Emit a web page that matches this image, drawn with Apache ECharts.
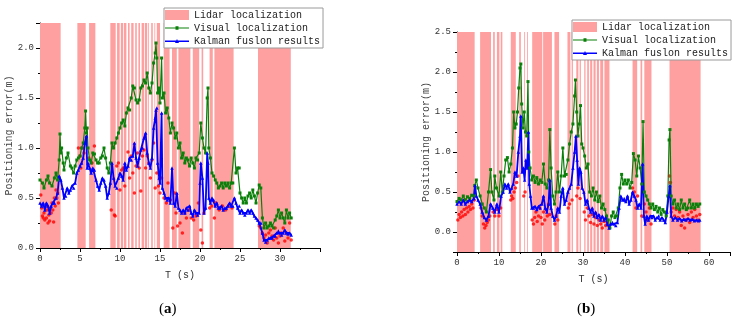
<!DOCTYPE html>
<html>
<head>
<meta charset="utf-8">
<script src="https://cdn.jsdelivr.net/npm/echarts@6/dist/echarts.min.js"></script>
<style>
  html, body { margin: 0; padding: 0; background: #fff; }
  #chart { width: 736px; height: 323px; }
</style>
</head>
<body>
<div id="chart"></div>
<script>
// lidar localization intervals [start, end] in seconds
const bandsA = [[0,2.58],[4.67,5.71],[6.13,6.92],[8.79,9.46],[9.63,9.96],[10.1,10.4],[10.5,10.8],[11.0,11.2],[11.4,11.7],[11.9,12.1],[12.3,12.5],[12.7,13.0],[13.1,13.4],[13.5,13.6],[13.9,14.1],[14.3,14.4],[14.6,15.0],[15.46,16.2],[16.5,17.1],[17.3,18.8],[19.1,19.9],[20.2,20.4],[21.2,21.6],[21.8,24.2],[27.25,31.35]];
const bandsB = [[0,4.2],[5.5,8.1],[8.6,9.0],[9.5,10.1],[10.4,10.8],[12.8,14.0],[14.8,15.2],[16.0,16.2],[16.7,16.9],[17.9,20.3],[20.5,22.6],[23.2,24.3],[26.3,27.0],[27.3,27.6],[28.4,28.9],[29.2,29.5],[30.3,30.6],[31.0,31.4],[31.7,32.2],[32.5,33.0],[33.3,33.8],[34.1,34.8],[35.1,36.3],[41.8,42.9],[43.7,44.1],[44.6,46.3],[50.6,58.0]];

// (a) visual localization error
const visualA = [[0,0.68],[0.3,0.65],[0.5,0.6],[0.8,0.68],[1.0,0.72],[1.2,0.65],[1.5,0.62],[1.8,0.7],[2.0,0.75],[2.2,0.68],[2.4,0.88],[2.5,1.14],[2.6,0.95],[2.7,1.0],[2.9,0.85],[3.0,0.78],[3.3,0.9],[3.5,0.95],[3.8,0.82],[4.0,0.8],[4.2,0.75],[4.4,0.82],[4.6,0.88],[4.8,0.9],[5.0,0.92],[5.2,1.0],[5.4,1.05],[5.6,1.2],[5.7,1.37],[5.8,1.15],[5.9,1.2],[6.0,1.0],[6.2,0.88],[6.4,0.85],[6.6,0.95],[6.8,0.94],[7.0,0.88],[7.2,0.85],[7.4,0.85],[7.6,0.9],[7.8,0.92],[8.0,1.0],[8.2,0.9],[8.4,0.8],[8.6,0.75],[8.8,0.85],[9.0,1.05],[9.2,1.0],[9.4,1.05],[9.6,1.1],[9.8,1.15],[10.0,1.2],[10.2,1.25],[10.4,1.28],[10.6,1.22],[10.8,1.35],[11.0,1.4],[11.2,1.38],[11.4,1.5],[11.6,1.62],[11.8,1.6],[12.0,1.48],[12.2,1.45],[12.4,1.48],[12.6,1.6],[12.8,1.62],[13.0,1.68],[13.2,1.65],[13.4,1.75],[13.6,1.6],[13.8,1.55],[14.0,1.65],[14.2,1.85],[14.4,1.95],[14.5,2.05],[14.6,1.9],[14.7,1.55],[14.9,1.6],[15.0,1.45],[15.2,1.9],[15.3,1.5],[15.5,1.55],[15.7,1.35],[15.9,1.4],[16.1,1.3],[16.3,1.15],[16.5,1.25],[16.7,1.2],[16.9,1.1],[17.1,1.15],[17.3,1.0],[17.5,1.05],[17.7,0.9],[17.9,0.95],[18.1,0.85],[18.3,0.9],[18.5,0.88],[18.7,0.82],[18.9,0.9],[19.1,0.85],[19.3,0.8],[19.5,0.9],[19.7,0.88],[19.9,0.95],[20.1,1.25],[20.3,1.1],[20.5,1.0],[20.7,0.95],[20.9,1.5],[21.0,1.6],[21.1,1.0],[21.3,0.9],[21.5,0.75],[21.7,0.72],[21.9,0.68],[22.1,0.65],[22.3,0.6],[22.5,0.62],[22.7,0.65],[22.9,0.6],[23.1,0.65],[23.3,0.62],[23.5,0.65],[23.7,0.6],[23.9,0.65],[24.1,0.65],[24.3,1.0],[24.5,0.75],[24.7,0.8],[24.9,0.8],[25.0,0.55],[25.2,0.5],[25.4,0.45],[25.6,0.5],[25.8,0.45],[26.0,0.52],[26.2,0.55],[26.4,0.5],[26.6,0.58],[26.8,0.52],[27.0,0.45],[27.2,0.55],[27.4,0.63],[27.6,0.6],[27.8,0.3],[28.0,0.2],[28.2,0.25],[28.4,0.2],[28.6,0.22],[28.8,0.25],[29.0,0.22],[29.2,0.2],[29.4,0.28],[29.6,0.32],[29.8,0.38],[30.0,0.3],[30.2,0.35],[30.4,0.3],[30.6,0.25],[30.8,0.38],[31.0,0.3],[31.2,0.35],[31.4,0.3]];

// (a) kalman fusion error
const kalmanA = [[0,0.45],[0.2,0.42],[0.4,0.45],[0.6,0.38],[0.8,0.45],[1.0,0.42],[1.2,0.35],[1.4,0.42],[1.6,0.45],[1.8,0.45],[2.0,0.5],[2.2,0.55],[2.4,0.72],[2.6,0.68],[2.8,0.6],[3.0,0.5],[3.2,0.52],[3.4,0.6],[3.6,0.55],[3.8,0.58],[4.0,0.62],[4.2,0.6],[4.4,0.65],[4.6,0.75],[4.8,0.78],[5.0,0.82],[5.2,0.85],[5.4,0.9],[5.6,1.05],[5.8,1.12],[5.9,0.8],[6.0,0.85],[6.2,0.8],[6.4,0.75],[6.6,0.8],[6.8,0.78],[7.0,0.68],[7.2,0.62],[7.4,0.58],[7.6,0.65],[7.8,0.7],[8.0,0.68],[8.2,0.62],[8.4,0.5],[8.6,0.55],[8.8,0.65],[9.0,0.85],[9.2,0.7],[9.4,0.62],[9.6,0.6],[9.8,0.7],[10.0,0.75],[10.2,0.72],[10.4,0.68],[10.6,0.85],[10.8,0.78],[11.0,0.82],[11.2,0.9],[11.4,0.88],[11.6,0.92],[11.8,1.05],[12.0,0.9],[12.2,0.82],[12.4,0.9],[12.6,0.98],[12.8,1.0],[13.0,1.1],[13.2,1.15],[13.4,0.95],[13.6,0.85],[13.8,0.8],[14.0,0.9],[14.2,1.2],[14.4,1.3],[14.5,1.38],[14.6,1.4],[14.7,0.85],[14.9,0.7],[15.0,0.65],[15.2,1.35],[15.3,0.6],[15.5,0.55],[15.7,0.5],[15.9,0.48],[16.1,0.5],[16.3,0.45],[16.5,0.8],[16.7,0.45],[16.9,0.42],[17.1,0.55],[17.3,0.4],[17.5,0.38],[17.7,0.35],[17.9,0.38],[18.1,0.35],[18.3,0.4],[18.5,0.38],[18.7,0.42],[18.9,0.35],[19.1,0.32],[19.3,0.38],[19.5,0.35],[19.7,0.33],[19.9,0.35],[20.0,0.65],[20.1,0.85],[20.3,0.7],[20.5,0.35],[20.7,0.4],[20.9,0.95],[21.0,0.85],[21.1,0.5],[21.3,0.45],[21.5,0.5],[21.7,0.48],[21.9,0.42],[22.1,0.45],[22.3,0.4],[22.5,0.4],[22.7,0.42],[22.9,0.38],[23.1,0.4],[23.3,0.4],[23.5,0.42],[23.7,0.45],[23.9,0.42],[24.1,0.42],[24.3,0.5],[24.5,0.45],[24.7,0.4],[24.9,0.42],[25.0,0.35],[25.2,0.38],[25.4,0.35],[25.6,0.33],[25.8,0.35],[26.0,0.38],[26.2,0.35],[26.4,0.38],[26.6,0.35],[26.8,0.32],[27.0,0.3],[27.2,0.28],[27.4,0.25],[27.6,0.25],[27.8,0.15],[28.0,0.08],[28.2,0.06],[28.4,0.08],[28.6,0.1],[28.8,0.1],[29.0,0.1],[29.2,0.12],[29.4,0.12],[29.6,0.15],[29.8,0.17],[30.0,0.15],[30.2,0.13],[30.4,0.15],[30.6,0.18],[30.8,0.15],[31.0,0.14],[31.2,0.15],[31.4,0.13]];

// (a) lidar localization points
const lidarA = [[0.1,0.53],[0.2,0.4],[0.3,0.32],[0.4,0.3],[0.5,0.35],[0.6,0.28],[0.7,0.42],[0.8,0.3],[0.9,0.38],[1.0,0.25],[1.1,0.33],[1.2,0.27],[1.3,0.4],[1.4,0.35],[1.5,0.45],[1.6,0.38],[1.7,0.26],[1.8,0.5],[1.9,0.42],[2.0,0.58],[2.1,0.5],[2.2,0.55],[2.3,0.45],[4.8,1.0],[5.0,0.92],[5.1,0.8],[5.3,1.0],[5.5,0.95],[6.1,0.9],[6.5,0.85],[6.8,1.02],[8.9,0.38],[9.3,0.33],[9.4,0.32],[9.6,0.82],[9.8,0.85],[10.0,0.58],[10.2,0.78],[10.4,0.8],[10.6,0.62],[11.0,0.96],[11.2,0.7],[11.4,0.92],[11.6,0.75],[11.8,0.55],[12.0,0.82],[12.2,0.95],[12.4,0.8],[12.6,0.57],[12.8,0.92],[13.0,0.98],[13.2,0.8],[13.4,0.92],[13.6,0.85],[13.8,0.7],[14.0,0.88],[14.2,1.05],[14.4,0.6],[14.6,0.75],[14.8,0.62],[15.0,0.55],[15.2,0.7],[15.5,0.5],[15.8,0.45],[16.0,0.65],[16.3,0.48],[16.6,0.2],[16.8,0.55],[17.0,0.35],[17.2,0.22],[17.5,0.25],[17.8,0.15],[18.1,0.35],[18.3,0.3],[18.6,0.38],[18.9,0.3],[19.2,0.28],[19.5,0.32],[19.8,0.45],[20.1,0.18],[20.3,0.05],[20.5,0.35],[21.2,0.4],[21.5,0.42],[21.8,0.3],[22.0,0.45],[22.4,0.38],[22.8,0.42],[23.2,0.38],[23.6,0.42],[24.0,0.4],[27.4,0.22],[27.6,0.2],[27.8,0.15],[28.0,0.1],[28.2,0.13],[28.4,0.05],[28.6,0.15],[28.8,0.18],[29.0,0.12],[29.2,0.08],[29.4,0.2],[29.6,0.1],[29.8,0.05],[30.0,0.12],[30.2,0.15],[30.4,0.2],[30.6,0.07],[30.8,0.15],[31.0,0.1],[31.2,0.25],[31.4,0.08]];

// (b) visual localization error
const visualB = [[0,0.38],[0.5,0.42],[1.0,0.4],[1.5,0.45],[2.0,0.4],[2.5,0.44],[3.0,0.42],[3.5,0.46],[4.0,0.45],[4.2,0.58],[4.6,0.65],[5.0,0.55],[5.5,0.45],[6.0,0.35],[6.5,0.3],[7.0,0.25],[7.5,0.5],[8.0,0.78],[8.3,0.5],[8.8,0.4],[9.0,0.7],[9.4,0.55],[10.0,0.45],[10.4,0.75],[10.8,0.5],[11.2,0.7],[11.6,0.9],[12.0,0.93],[12.4,0.75],[12.8,0.85],[13.2,1.05],[13.5,1.5],[13.8,1.3],[14.1,1.35],[14.4,1.5],[14.7,1.8],[15.0,2.05],[15.2,2.1],[15.4,1.6],[15.7,1.3],[16.0,1.5],[16.3,1.25],[16.6,1.2],[16.9,1.88],[17.1,1.0],[17.4,0.8],[17.8,0.65],[18.2,0.7],[18.6,0.62],[19.0,0.68],[19.4,0.6],[19.8,0.65],[20.2,0.62],[20.6,0.85],[21.0,0.6],[21.4,0.55],[21.8,0.65],[22.1,1.28],[22.4,0.8],[22.8,0.45],[23.2,0.35],[23.6,0.5],[24.0,0.75],[24.4,0.5],[24.8,0.7],[25.2,1.05],[25.6,0.7],[26.0,0.72],[26.4,0.9],[26.8,1.1],[27.2,1.25],[27.6,1.35],[28.0,1.7],[28.2,1.9],[28.5,1.5],[28.8,1.2],[29.1,1.35],[29.4,1.58],[29.7,1.1],[30.0,1.05],[30.4,0.95],[30.8,0.8],[31.2,0.85],[31.6,0.5],[32.0,0.45],[32.4,0.55],[32.8,0.4],[33.2,0.5],[33.6,0.38],[34.0,0.45],[34.4,0.3],[34.8,0.35],[35.2,0.28],[35.6,0.2],[36.0,0.15],[36.4,0.05],[36.8,0.2],[37.2,0.25],[37.6,0.18],[38.0,0.2],[38.4,0.3],[38.8,0.55],[39.2,0.72],[39.6,0.6],[40.0,0.65],[40.4,0.6],[40.8,0.65],[41.2,0.55],[41.6,0.62],[42.0,0.98],[42.4,0.9],[42.8,0.7],[43.2,0.95],[43.6,0.8],[44.0,0.6],[44.3,1.38],[44.6,0.5],[45.0,0.45],[45.4,0.4],[45.8,0.35],[46.2,0.3],[46.6,0.35],[47.0,0.28],[47.4,0.32],[47.8,0.25],[48.2,0.3],[48.6,0.22],[49.0,0.28],[49.4,0.25],[49.8,0.2],[50.2,0.45],[50.5,1.15],[50.7,1.28],[51.0,0.45],[51.4,0.35],[51.8,0.4],[52.2,0.3],[52.6,0.35],[53.0,0.28],[53.4,0.4],[53.8,0.3],[54.2,0.35],[54.6,0.28],[55.0,0.3],[55.4,0.4],[55.8,0.3],[56.2,0.35],[56.6,0.3],[57.0,0.35],[57.4,0.32],[57.8,0.35]];

// (b) kalman fusion error
const kalmanB = [[0,0.35],[0.5,0.38],[1.0,0.35],[1.5,0.4],[2.0,0.35],[2.5,0.38],[3.0,0.4],[3.5,0.38],[4.0,0.42],[4.3,0.58],[4.6,0.45],[5.0,0.4],[5.5,0.35],[6.0,0.25],[6.5,0.18],[7.0,0.15],[7.5,0.2],[8.0,0.35],[8.5,0.3],[9.0,0.25],[9.5,0.35],[10.0,0.25],[10.5,0.45],[11.0,0.5],[11.4,0.6],[11.8,0.55],[12.2,0.6],[12.6,0.5],[13.0,0.55],[13.4,0.6],[13.8,0.75],[14.2,0.7],[14.6,1.0],[15.0,1.2],[15.2,1.45],[15.5,0.75],[15.8,0.8],[16.1,0.65],[16.4,0.9],[16.7,0.8],[17.0,1.25],[17.2,0.6],[17.5,0.45],[17.8,0.3],[18.2,0.3],[18.6,0.32],[19.0,0.28],[19.4,0.32],[19.8,0.3],[20.2,0.35],[20.6,0.45],[21.0,0.3],[21.4,0.25],[21.8,0.35],[22.1,0.65],[22.4,0.3],[22.8,0.2],[23.2,0.15],[23.6,0.2],[24.0,0.3],[24.4,0.25],[24.8,0.45],[25.2,0.55],[25.6,0.35],[26.0,0.4],[26.4,0.5],[26.8,0.55],[27.2,0.6],[27.6,0.8],[28.0,1.0],[28.3,1.2],[28.6,0.9],[28.9,0.6],[29.2,0.8],[29.5,0.75],[29.8,0.55],[30.2,0.5],[30.6,0.35],[31.0,0.4],[31.4,0.3],[31.8,0.25],[32.2,0.3],[32.6,0.2],[33.0,0.25],[33.4,0.18],[33.8,0.22],[34.2,0.15],[34.6,0.2],[35.0,0.15],[35.4,0.18],[35.8,0.1],[36.2,0.05],[36.6,0.1],[37.0,0.12],[37.4,0.1],[37.8,0.08],[38.2,0.12],[38.6,0.3],[39.0,0.45],[39.4,0.4],[39.8,0.42],[40.2,0.38],[40.6,0.45],[41.0,0.35],[41.4,0.4],[41.8,0.5],[42.2,0.45],[42.6,0.4],[43.0,0.3],[43.4,0.35],[43.8,0.3],[44.2,0.85],[44.5,0.2],[44.8,0.1],[45.2,0.2],[45.6,0.15],[46.0,0.2],[46.4,0.18],[46.8,0.2],[47.2,0.15],[47.6,0.18],[48.0,0.2],[48.4,0.15],[48.8,0.18],[49.2,0.15],[49.6,0.12],[50.0,0.25],[50.4,0.45],[50.7,0.58],[51.0,0.2],[51.4,0.15],[52.0,0.18],[52.5,0.15],[53.0,0.17],[53.5,0.14],[54.0,0.16],[54.5,0.15],[55.0,0.17],[55.5,0.15],[56.0,0.16],[56.5,0.14],[57.0,0.15],[57.5,0.14],[57.8,0.15]];

// (b) lidar localization points
const lidarB = [[0.2,0.15],[0.5,0.22],[0.8,0.18],[1.1,0.25],[1.4,0.2],[1.7,0.28],[2.0,0.22],[2.3,0.3],[2.6,0.25],[2.9,0.32],[3.2,0.28],[3.5,0.35],[3.8,0.3],[4.1,0.4],[5.7,0.3],[6.0,0.2],[6.3,0.1],[6.6,0.05],[6.9,0.08],[7.2,0.12],[7.5,0.15],[7.8,0.2],[8.6,0.25],[9.0,0.2],[9.5,0.28],[10.0,0.2],[10.4,0.3],[12.8,0.4],[13.0,0.45],[13.3,0.42],[13.6,0.5],[13.9,0.55],[14.2,0.62],[14.5,0.7],[15.9,0.45],[16.2,0.5],[17.9,0.15],[18.2,0.1],[18.5,0.18],[18.8,0.25],[19.1,0.13],[19.4,0.2],[19.7,0.3],[20.0,0.18],[20.3,0.1],[20.6,0.25],[20.9,0.15],[21.2,0.28],[21.5,0.2],[21.8,0.35],[22.1,0.22],[23.3,0.1],[23.6,0.2],[24.0,0.15],[26.5,0.3],[26.8,0.35],[27.4,0.4],[28.5,0.45],[28.8,0.55],[29.3,0.42],[30.3,0.25],[30.6,0.15],[31.0,0.3],[31.4,0.2],[31.8,0.12],[32.2,0.22],[32.6,0.1],[33.0,0.18],[33.4,0.08],[33.8,0.15],[34.2,0.1],[34.6,0.05],[35.0,0.13],[35.4,0.08],[35.8,0.12],[41.8,0.55],[42.2,0.5],[42.6,0.3],[43.0,0.45],[44.0,0.2],[44.6,0.35],[45.0,0.25],[45.4,0.15],[45.8,0.3],[46.2,0.1],[50.6,0.7],[50.8,0.62],[51.0,0.25],[51.4,0.3],[51.8,0.2],[52.2,0.28],[52.6,0.18],[53.0,0.25],[53.4,0.08],[53.8,0.2],[54.2,0.05],[54.6,0.15],[55.0,0.22],[55.4,0.12],[55.8,0.25],[56.2,0.18],[56.6,0.28],[57.0,0.2],[57.4,0.15],[57.8,0.22]];

const NAMES = ['Lidar localization', 'Visual localization', 'Kalman fuslon results'];
const FONT = 'Liberation Mono';
const PINK = '#ffa0a0';
const GREEN = '#0a800a';
const BLUE = '#0000ff';
// legend icons: a line with a small marker in the middle (24 x 10 box)
const ICON_SQUARE = 'path://M0,4.4L24,4.4L24,5.6L0,5.6Z M10.5,3.2L13.5,3.2L13.5,6.8L10.5,6.8Z';
const ICON_TRI = 'path://M0,4.2L24,4.2L24,5.8L0,5.8Z M12,2.6L14,6.8L10,6.8Z';

const chart = echarts.init(document.getElementById('chart'), null, { renderer: 'canvas' });

function xAxisOf(gridIndex, max, interval) {
    return {
        type: 'value', gridIndex, min: 0, max, interval,
        name: 'T (s)', nameLocation: 'middle', nameGap: 22,
        nameTextStyle: { fontFamily: FONT, fontSize: 10, color: '#333' },
        axisLine: { onZero: false, lineStyle: { color: '#000', width: 1 } },
        axisTick: { length: 4, lineStyle: { color: '#000' } },
        minorTick: { show: true, splitNumber: 2, length: 2, lineStyle: { color: '#000' } },
        axisLabel: { fontFamily: FONT, fontSize: 9, color: '#333', margin: 6, showMaxLabel: false },
        splitLine: { show: false }
    };
}

function yAxisOf(gridIndex, min, max, interval, showMax) {
    const ax = {
        type: 'value', gridIndex, min, max,
        name: 'Positioning error(m)', nameLocation: 'middle', nameGap: 26, nameRotate: 90,
        nameTextStyle: { fontFamily: FONT, fontSize: 10, color: '#444' },
        axisLine: { show: true, onZero: false, lineStyle: { color: '#000', width: 1 } },
        axisTick: { show: true, length: 4, lineStyle: { color: '#000' } },
        minorTick: { show: true, splitNumber: 2, length: 2, lineStyle: { color: '#000' } },
        axisLabel: {
            fontFamily: FONT, fontSize: 9, color: '#333', margin: 6,
            showMaxLabel: showMax, showMinLabel: min === 0,
            formatter: v => v.toFixed(1)
        },
        splitLine: { show: false }
    };
    if (interval) ax.interval = interval;
    return ax;
}

function legendOf(left, top) {
    return {
        orient: 'vertical', left, top,
        itemWidth: 24, itemHeight: 10, itemGap: 3,
        padding: [2, 3, 2, 1],
        borderColor: '#9a9a9a', borderWidth: 1, borderRadius: 0,
        backgroundColor: '#fff',
        textStyle: { fontFamily: FONT, fontSize: 10, color: '#222' },
        data: [
            { name: NAMES[0], icon: 'rect' },
            { name: NAMES[1], icon: ICON_SQUARE },
            { name: NAMES[2], icon: ICON_TRI }
        ],
        selectedMode: false
    };
}

function seriesOf(idx, bands, lidar, visual, kalman) {
    return [
        {
            name: NAMES[0], type: 'line', xAxisIndex: idx, yAxisIndex: idx, data: [],
            itemStyle: { color: PINK }, lineStyle: { color: PINK },
            silent: true,
            markArea: {
                silent: true,
                itemStyle: { color: PINK, opacity: 1 },
                data: bands.map(b => [{ xAxis: b[0] }, { xAxis: b[1] }])
            }
        },
        {
            name: 'lidar pts', type: 'scatter', xAxisIndex: idx, yAxisIndex: idx, data: lidar,
            symbol: 'circle', symbolSize: 3.5, itemStyle: { color: '#ff0000' }
        },
        {
            name: NAMES[1], type: 'line', xAxisIndex: idx, yAxisIndex: idx, data: visual,
            symbol: 'rect', symbolSize: 3, showSymbol: true,
            lineStyle: { color: GREEN, width: 1.2 }, itemStyle: { color: GREEN }
        },
        {
            name: NAMES[2], type: 'line', xAxisIndex: idx, yAxisIndex: idx, data: kalman,
            symbol: 'triangle', symbolSize: 3.5, showSymbol: true,
            lineStyle: { color: BLUE, width: 1.8 }, itemStyle: { color: BLUE }
        }
    ];
}

const titleStyle = {
    fontFamily: 'Liberation Serif', fontSize: 15, fontWeight: 'normal', color: '#000',
    rich: { b: { fontFamily: 'Liberation Serif', fontSize: 15, fontWeight: 'bold' } }
};

chart.setOption({
    animation: false,
    backgroundColor: '#fff',
    title: [
        { text: '({b|a})', left: 154, top: 297, textStyle: titleStyle },
        { text: '({b|b})', left: 572, top: 297, textStyle: titleStyle }
    ],
    grid: [
        { left: 40, top: 23, width: 280, height: 225, containLabel: false },
        { left: 457, top: 32, width: 273, height: 220, containLabel: false }
    ],
    legend: [legendOf(164, 8), legendOf(572, 20)],
    xAxis: [xAxisOf(0, 35, 5), xAxisOf(1, 65, 10)],
    yAxis: [yAxisOf(0, 0, 2.25, 0.5, false), yAxisOf(1, -0.25, 2.5, null, true)],
    series: [
        ...seriesOf(0, bandsA, lidarA, visualA, kalmanA),
        ...seriesOf(1, bandsB, lidarB, visualB, kalmanB)
    ]
});
</script>
</body>
</html>
